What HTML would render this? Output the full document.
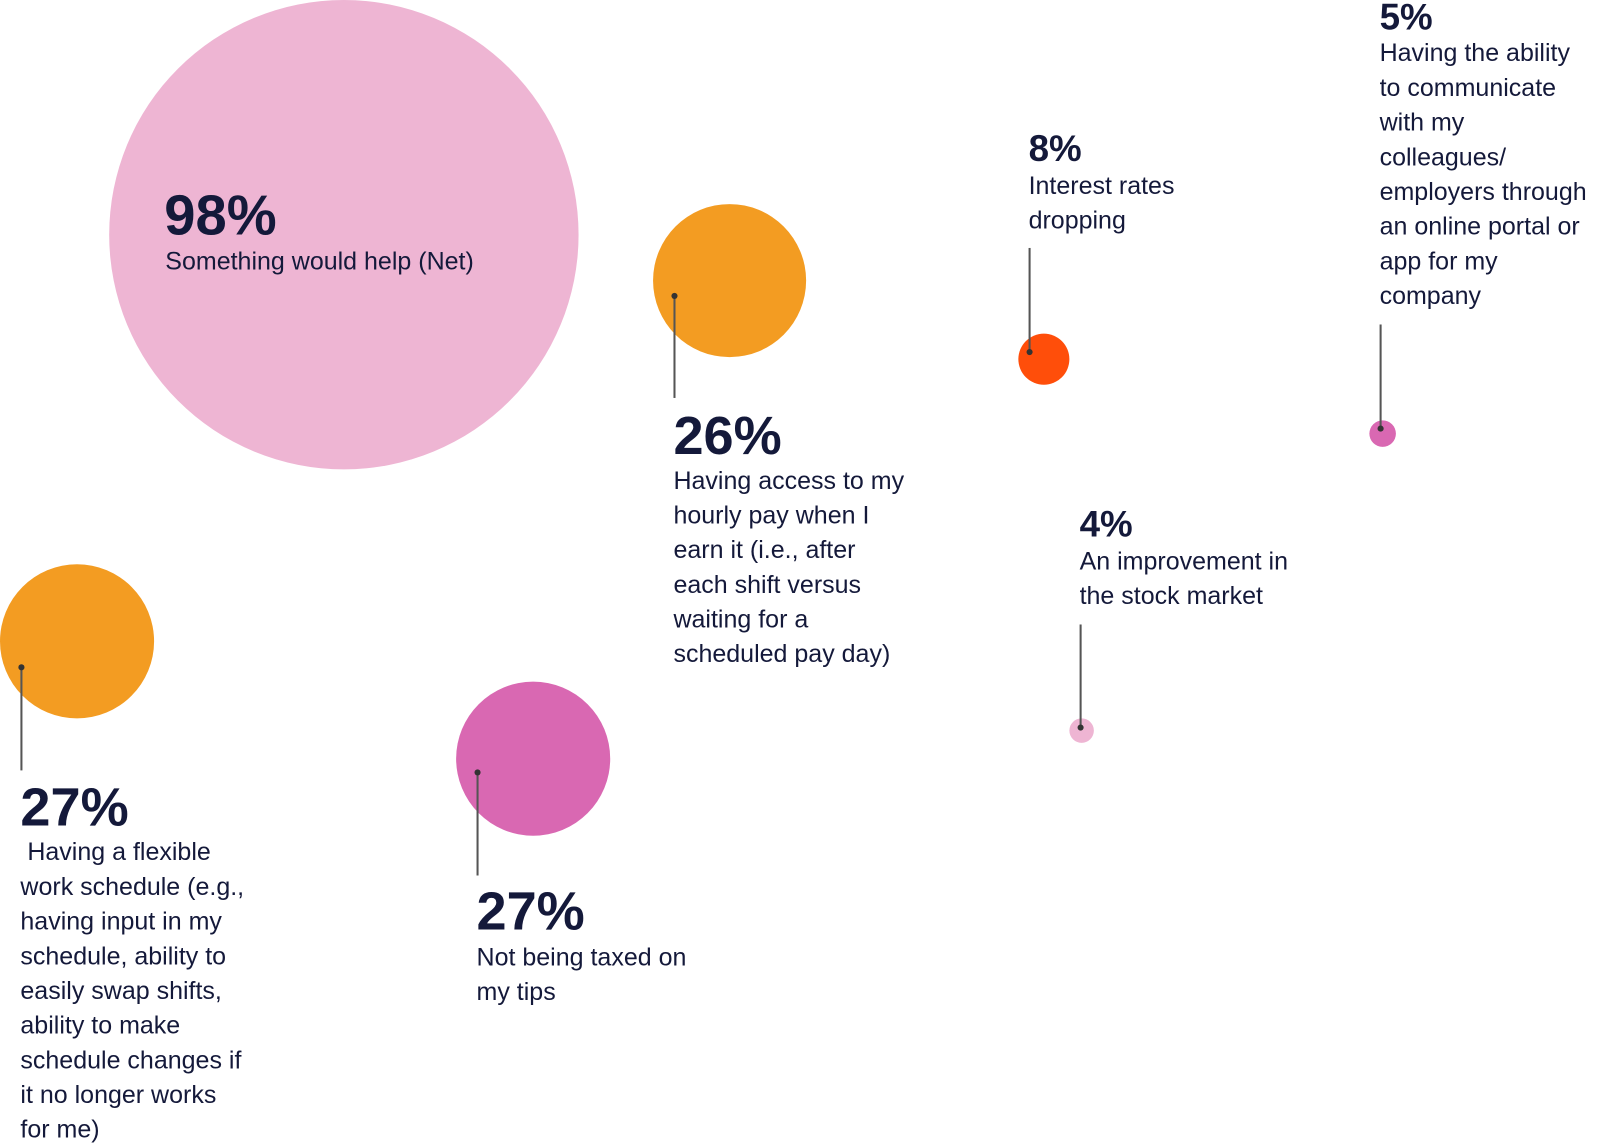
<!DOCTYPE html>
<html><head><meta charset="utf-8"><style>
body{margin:0;width:1600px;height:1147px;background:#fff;position:relative;overflow:hidden;font-family:"Liberation Sans",sans-serif;color:#14193A}
#w{position:absolute;left:0;top:0;width:1568px;height:1124px;transform:scale(1.0204);transform-origin:0 0}
.c{position:absolute;border-radius:50%}
.p{position:absolute;font-weight:bold;line-height:1;white-space:nowrap}
.l{position:absolute;font-size:24.5px;line-height:34px;white-space:nowrap}
.v{position:absolute;width:1.5px;background:#555}
.d{position:absolute;width:6px;height:6px;border-radius:50%;background:#333}
</style></head><body><div id="w">
<div class="c" style="left:107px;top:0;width:460px;height:460px;background:#EEB5D3"></div>
<div class="c" style="left:640px;top:200px;width:150px;height:150px;background:#F39C22"></div>
<div class="c" style="left:998px;top:327px;width:50px;height:50px;background:#FF4E0A"></div>
<div class="c" style="left:1342px;top:412px;width:26px;height:26px;background:#D968B2"></div>
<div class="c" style="left:1048px;top:704px;width:24px;height:24px;background:#EEB5D3"></div>
<div class="c" style="left:0px;top:553px;width:151px;height:151px;background:#F39C22"></div>
<div class="c" style="left:447px;top:668px;width:151px;height:151px;background:#D968B2"></div>

<div class="v" style="left:660px;top:290px;height:100px"></div><div class="d" style="left:658px;top:287px"></div>
<div class="v" style="left:1008px;top:243px;height:102px"></div><div class="d" style="left:1006px;top:342px"></div>
<div class="v" style="left:1352px;top:318px;height:102px"></div><div class="d" style="left:1350px;top:417px"></div>
<div class="v" style="left:1058px;top:612px;height:101px"></div><div class="d" style="left:1056px;top:710px"></div>
<div class="v" style="left:20px;top:654px;height:101px"></div><div class="d" style="left:18px;top:651px"></div>
<div class="v" style="left:467px;top:757px;height:101px"></div><div class="d" style="left:465px;top:754px"></div>

<div class="p" style="left:161px;top:184px;font-size:55px">98%</div>
<div class="l" style="left:162px;top:240px">Something would help (Net)</div>

<div class="p" style="left:660px;top:401px;font-size:53px">26%</div>
<div class="l" style="left:660px;top:455px">Having access to my<br>hourly pay when I<br>earn it (i.e., after<br>each shift versus<br>waiting for a<br>scheduled pay day)</div>

<div class="p" style="left:1008px;top:128px;font-size:36px">8%</div>
<div class="l" style="left:1008px;top:166px">Interest rates<br>dropping</div>

<div class="p" style="left:1352px;top:-1px;font-size:36px">5%</div>
<div class="l" style="left:1352px;top:36px">Having the ability<br>to communicate<br>with my<br>colleagues/<br>employers through<br>an online portal or<br>app for my<br>company</div>

<div class="p" style="left:1058px;top:496px;font-size:36px">4%</div>
<div class="l" style="left:1058px;top:534px">An improvement in<br>the stock market</div>

<div class="p" style="left:20px;top:765px;font-size:53px">27%</div>
<div class="l" style="left:20px;top:819px">&nbsp;Having a flexible<br>work schedule (e.g.,<br>having input in my<br>schedule, ability to<br>easily swap shifts,<br>ability to make<br>schedule changes if<br>it no longer works<br>for me)</div>

<div class="p" style="left:467px;top:867px;font-size:53px">27%</div>
<div class="l" style="left:467px;top:922px">Not being taxed on<br>my tips</div>
</div></body></html>
